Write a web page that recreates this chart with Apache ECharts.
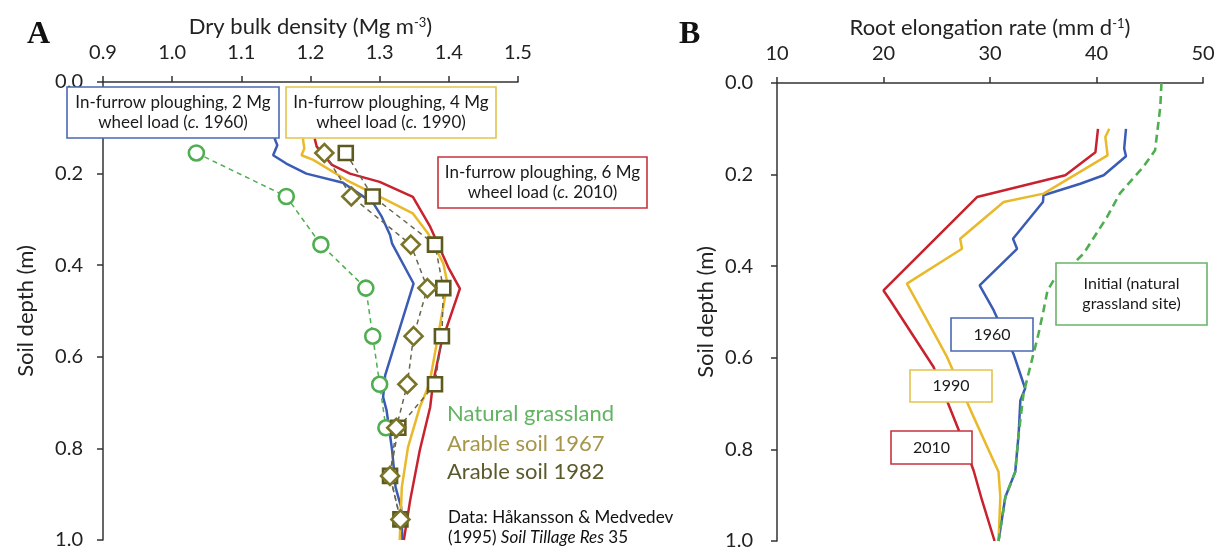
<!DOCTYPE html>
<html>
<head>
<meta charset="utf-8">
<script src="https://cdn.jsdelivr.net/npm/echarts@6/dist/echarts.min.js"></script>
<style>
html,body{margin:0;padding:0;background:#fff;}
#main{width:1225px;height:552px;}
</style>
</head>
<body>
<div id="main"></div>
<script>
// panel A : dry bulk density (Mg m-3) against soil depth (m)
var depthA1960 = [0.123, 0.138, 0.16, 0.178, 0.2, 0.22, 0.265, 0.294, 0.334, 0.353, 0.44, 0.64, 0.688, 0.717, 0.804, 0.885, 0.928, 1.0];
var dens1960   = [1.148, 1.152, 1.146, 1.165, 1.194, 1.247, 1.291, 1.303, 1.315, 1.318, 1.349, 1.308, 1.305, 1.31, 1.318, 1.323, 1.331, 1.333];
var depthA1990 = [0.123, 0.145, 0.16, 0.17, 0.214, 0.258, 0.287, 0.331, 0.396, 0.44, 0.549, 0.659, 0.71, 0.797, 0.885, 1.0];
var dens1990   = [1.189, 1.191, 1.187, 1.204, 1.252, 1.31, 1.348, 1.37, 1.392, 1.398, 1.385, 1.372, 1.358, 1.341, 1.332, 1.329];
var depthA2010 = [0.123, 0.141, 0.181, 0.2, 0.218, 0.251, 0.316, 0.404, 0.451, 0.571, 0.659, 0.71, 0.804, 0.914, 1.0];
var dens2010   = [1.206, 1.209, 1.231, 1.257, 1.3, 1.348, 1.373, 1.399, 1.416, 1.389, 1.377, 1.373, 1.358, 1.344, 1.335];

var sampleDepth = [0.155, 0.25, 0.355, 0.45, 0.555, 0.66, 0.755, 0.86, 0.955];
var densGrass   = [1.035, 1.165, 1.215, 1.28, 1.29, 1.30, 1.309];
var densArable67 = [1.22, 1.259, 1.345, 1.369, 1.349, 1.34, 1.324, 1.315, 1.33];
var densArable82 = [1.251, 1.29, 1.38, 1.392, 1.39, 1.38, 1.327, 1.315, 1.33];

// panel B : root elongation rate (mm d-1) against soil depth (m)
var depthB1960 = [0.10, 0.143, 0.16, 0.2015, 0.22, 0.245, 0.26, 0.34, 0.362, 0.442, 0.496, 0.591, 0.667, 0.693, 0.766, 0.849, 0.904, 1.0];
var rate1960   = [42.77, 42.6, 42.77, 40.67, 38.48, 35.03, 34.97, 32.16, 32.54, 29.03, 30.34, 32.2, 33.3, 32.85, 32.69, 32.37, 31.44, 30.8];
var depthB1990 = [0.10, 0.118, 0.158, 0.2415, 0.26, 0.34, 0.362, 0.438, 0.544, 0.598, 0.729, 0.849, 0.904, 1.0];
var rate1990   = [41.2, 40.83, 41.04, 35.03, 31.28, 27.2, 27.37, 22.2, 24.7, 25.96, 28.46, 30.8, 30.97, 30.8];
var depthB2010 = [0.10, 0.151, 0.2015, 0.249, 0.453, 0.475, 0.62, 0.766, 0.846, 0.911, 1.0];
var rate2010   = [40.14, 39.9, 37.07, 28.78, 20.0, 20.64, 24.7, 27.2, 28.46, 29.25, 30.43];
var depthBInit = [0.0, 0.052, 0.147, 0.183, 0.241, 0.293, 0.372, 0.394, 0.431, 0.453, 0.496, 0.547, 0.678, 0.766, 0.849, 0.904, 1.0];
var rateInit   = [46.1, 45.99, 45.5, 44.4, 42.2, 40.98, 38.8, 37.85, 35.97, 35.4, 35.03, 34.56, 33.15, 32.69, 32.37, 31.44, 30.8];

var BLUE = '#3b5cb4', YELLOW = '#eab92a', RED = '#c9222f', GREEN = '#4fae50';
var DASHGREY = '#66664e';
var FONT = 'Lato';

function pairs(xs, ys) {
	var out = [];
	for (var i = 0; i < ys.length; i++) out.push([xs[i], ys[i]]);
	return out;
}

var supRich = {sup: {fontFamily: FONT, fontSize: 13, color: '#222', verticalAlign: 'top', padding: [0, 0, 9, 0]}};

function depthAxis(idx, gap, margin) {
	return {
		gridIndex: idx, type: 'value', inverse: true, min: 0, max: 1, interval: 0.2,
		name: 'Soil depth (m)', nameLocation: 'middle', nameGap: gap,
		nameTextStyle: {fontFamily: FONT, fontSize: 22, color: '#222'},
		axisLine: {show: true, lineStyle: {color: '#333', width: 1.5}},
		axisTick: {show: true, length: 6, lineStyle: {color: '#333', width: 1.5}},
		splitLine: {show: false},
		axisLabel: {fontFamily: FONT, fontSize: 20, color: '#222', margin: margin,
			formatter: function (v) { return v.toFixed(1); }}
	};
}

function topAxis(idx, min, max, step, name, fmt) {
	return {
		gridIndex: idx, type: 'value', position: 'top', min: min, max: max, interval: step,
		name: name, nameLocation: 'middle', nameGap: 44,
		nameTextStyle: {fontFamily: FONT, fontSize: 22, color: '#222', rich: supRich},
		axisLine: {show: true, lineStyle: {color: '#333', width: 1.5}},
		axisTick: {show: true, length: 6, lineStyle: {color: '#333', width: 1.5}},
		splitLine: {show: false},
		axisLabel: {fontFamily: FONT, fontSize: 20, color: '#222', margin: 19, formatter: fmt}
	};
}

function solid(name, color, x, y, xi) {
	return {
		name: name, type: 'line', xAxisIndex: xi, yAxisIndex: xi,
		data: pairs(x, y), showSymbol: false, symbol: 'none',
		lineStyle: {color: color, width: 2.5}, z: 2, silent: true
	};
}

function marked(name, sym, size, color, x, y, dashColor) {
	return {
		name: name, type: 'line', xAxisIndex: 0, yAxisIndex: 0,
		data: pairs(x, y), symbol: sym, symbolSize: size, showSymbol: true,
		lineStyle: {color: dashColor, width: 1.5, type: [5, 4]},
		itemStyle: {color: '#fff', borderColor: color, borderWidth: 2.6},
		z: 4, silent: true
	};
}

function box(x, y, w, h, color, lines, size) {
	return {
		type: 'group', x: x, y: y, z: 100,
		children: [
			{type: 'rect', z: 100, shape: {x: 0, y: 0, width: w, height: h},
				style: {fill: '#fff', stroke: color, lineWidth: 1.6}},
			{type: 'text', z: 101, x: w / 2, y: h / 2,
				style: {text: lines, align: 'center', verticalAlign: 'middle',
					fontFamily: FONT, fontSize: size, fill: '#1a1a1a', lineHeight: 20,
					rich: {i: {fontStyle: 'italic', fontFamily: FONT, fontSize: size, fill: '#1a1a1a', lineHeight: 20},
						n: {fontFamily: FONT, fontSize: size, fill: '#1a1a1a', lineHeight: 20}}}}
		]
	};
}

function note(x, y, text, size, color) {
	return {type: 'text', x: x, y: y, z: 100,
		style: {text: text, fontFamily: FONT, fontSize: size, fill: color}};
}

var chart = echarts.init(document.getElementById('main'));
var option = {
	animation: false,
	backgroundColor: '#fff',
	grid: [
		{left: 103, top: 82, width: 415, height: 458},
		{left: 777, top: 83, width: 426, height: 458}
	],
	xAxis: [
		topAxis(0, 0.9, 1.5, 0.1, 'Dry bulk density (Mg m{sup|-3})', function (v) { return v.toFixed(1); }),
		topAxis(1, 10, 50, 10, 'Root elongation rate (mm d{sup|-1})', null)
	],
	yAxis: [depthAxis(0, 66, 20), depthAxis(1, 60, 24)],
	series: [
		solid('1960', BLUE, dens1960, depthA1960, 0),
		solid('1990', YELLOW, dens1990, depthA1990, 0),
		solid('2010', RED, dens2010, depthA2010, 0),
		marked('Natural grassland', 'circle', 15, GREEN, densGrass, sampleDepth, GREEN),
		marked('Arable soil 1982', 'rect', 14, '#5c5a1f', densArable82, sampleDepth, DASHGREY),
		marked('Arable soil 1967', 'diamond', 18, '#7a7426', densArable67, sampleDepth, DASHGREY),
		solid('1960', BLUE, rate1960, depthB1960, 1),
		solid('1990', YELLOW, rate1990, depthB1990, 1),
		solid('2010', RED, rate2010, depthB2010, 1),
		{name: 'Initial', type: 'line', xAxisIndex: 1, yAxisIndex: 1,
			data: pairs(rateInit, depthBInit), symbol: 'none', silent: true,
			lineStyle: {color: GREEN, width: 2.6, type: [8, 5]}, z: 3}
	],
	graphic: [
		{type: 'text', x: 27, y: 19, z: 100, style: {text: 'A', fontFamily: 'Liberation Serif', fontWeight: 'bold', fontSize: 32, fill: '#111'}},
		{type: 'text', x: 679, y: 19, z: 100, style: {text: 'B', fontFamily: 'Liberation Serif', fontWeight: 'bold', fontSize: 32, fill: '#111'}},
		box(67, 87, 212, 51, '#4a68b2', '{n|In-furrow ploughing, 2 Mg}\n{n|wheel load (}{i|c.}{n| 1960)}', 17),
		box(286, 87, 210, 51, '#e4c44e', '{n|In-furrow ploughing, 4 Mg}\n{n|wheel load (}{i|c.}{n| 1990)}', 17),
		box(438, 157, 209, 51, '#c8333d', '{n|In-furrow ploughing, 6 Mg}\n{n|wheel load (}{i|c.}{n| 2010)}', 17),
		note(447, 403, 'Natural grassland', 22, '#62b462'),
		note(447, 433, 'Arable soil 1967', 22, '#a6964a'),
		note(447, 461, 'Arable soil 1982', 22, '#5b5a2c'),
		{type: 'text', x: 448, y: 508, z: 100, style: {
			text: '{n|Data: Håkansson & Medvedev}\n{n|(1995) }{i|Soil Tillage Res}{n| 35}',
			fontFamily: FONT, fontSize: 17, fill: '#111',
			rich: {n: {fontFamily: FONT, fontSize: 17, fill: '#111', lineHeight: 20},
				i: {fontFamily: FONT, fontSize: 17, fontStyle: 'italic', fill: '#111', lineHeight: 20}}}},
		box(1056, 263, 151, 62, '#6ab46a', '{n|Initial (natural}\n{n|grassland site)}', 16),
		box(951, 318, 82, 33, '#4a68b2', '{n|1960}', 16),
		box(910, 370, 82, 32, '#e4c44e', '{n|1990}', 16),
		box(891, 431, 81, 33, '#c8333d', '{n|2010}', 16)
	]
};
chart.setOption(option);
</script>
</body>
</html>
